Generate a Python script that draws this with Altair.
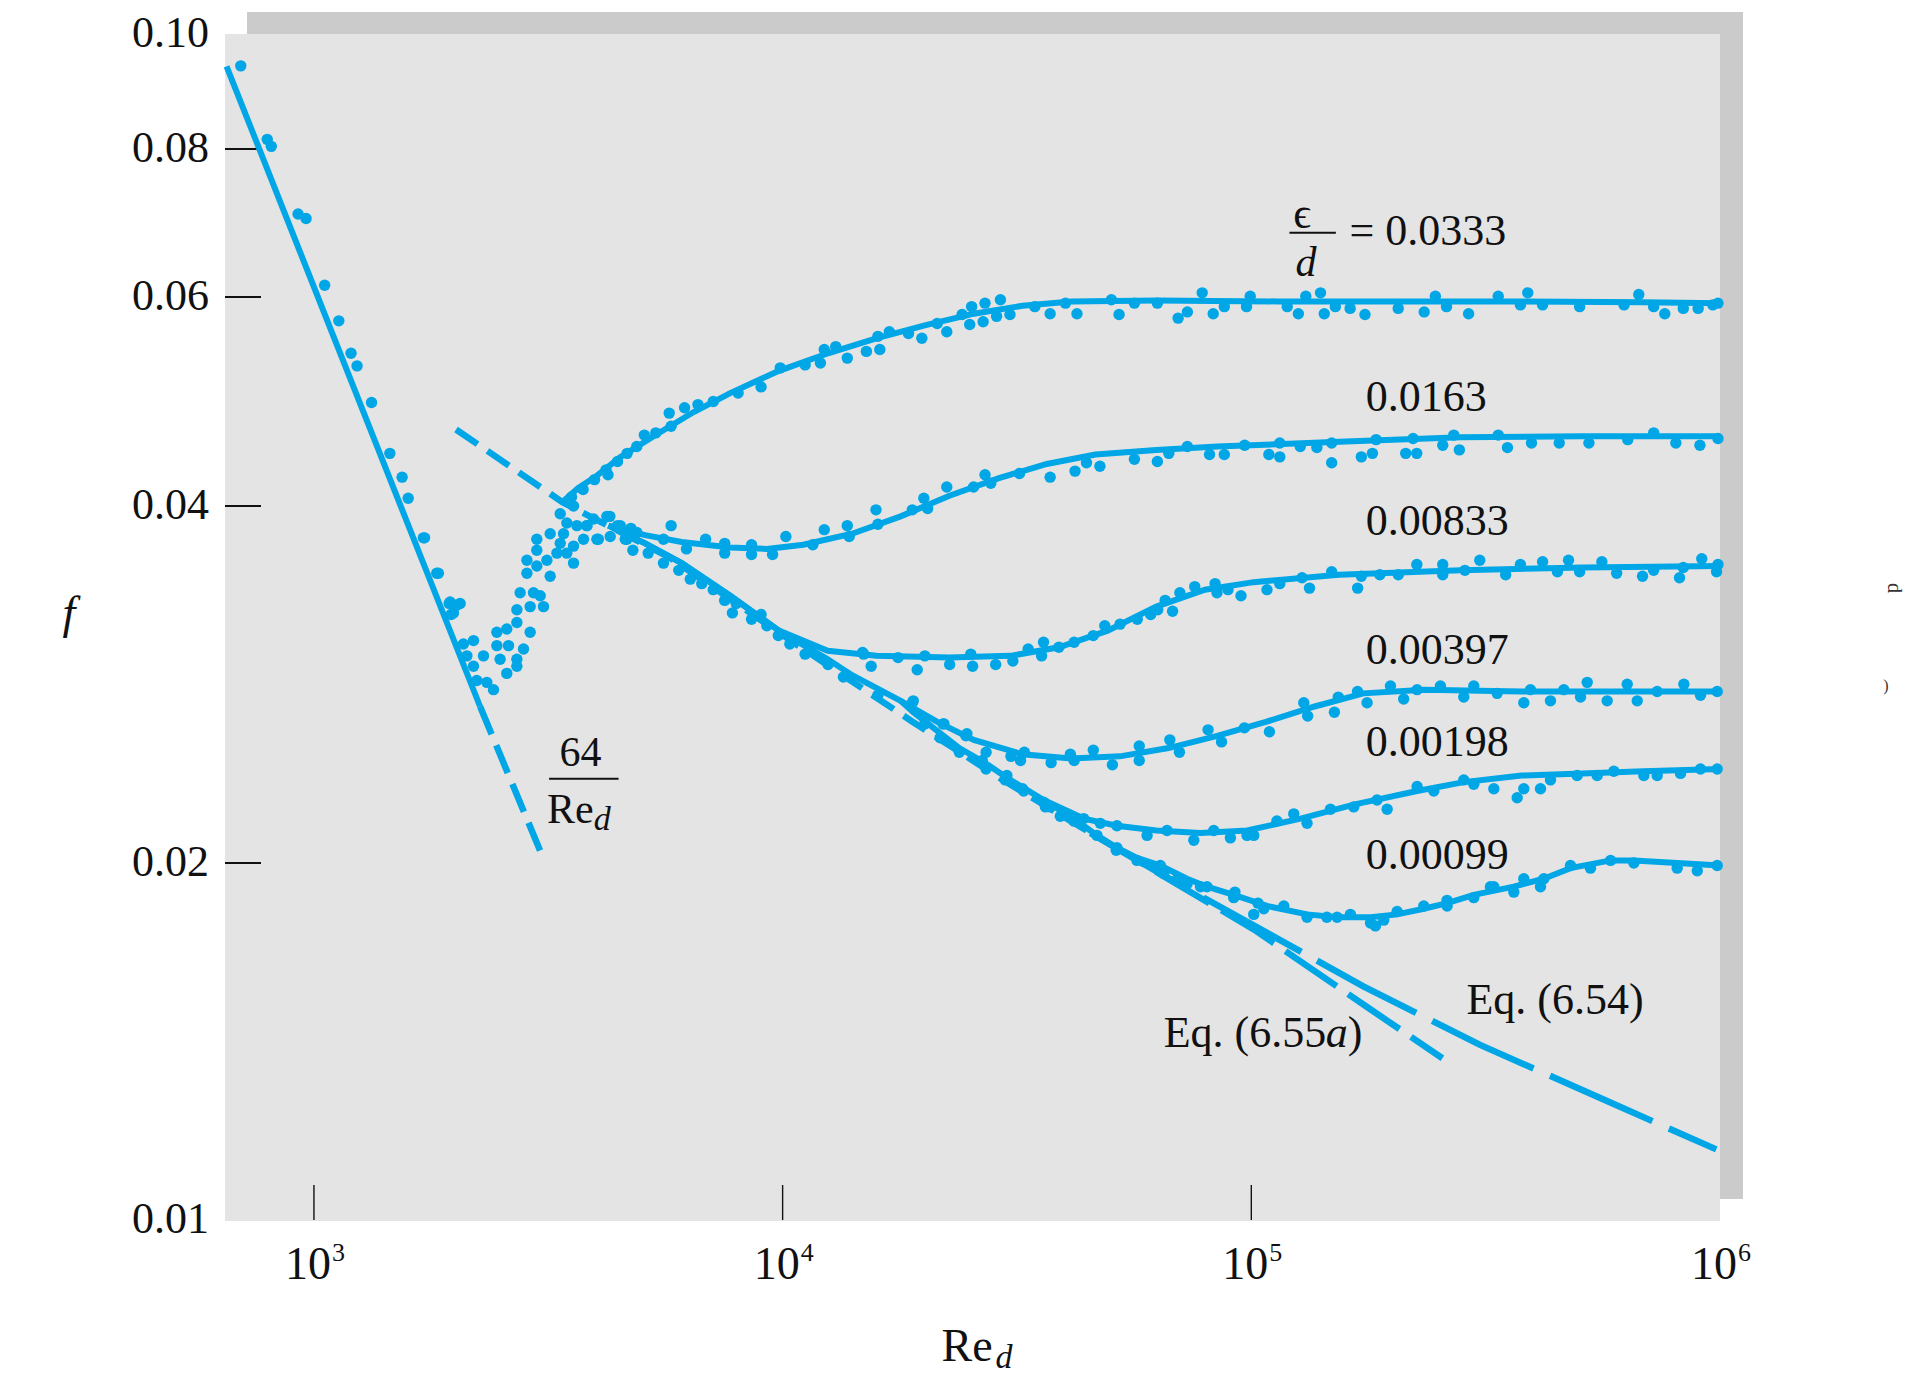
import altair as alt
import pandas as pd

BLUE = "#00a6e6"
INK = "#111111"
FONT = "Liberation Serif"
W, H = 1495, 1186

# ---------------- axis values ----------------
x_tick_values = [1000, 10000, 100000, 1000000]
x_tick_exponents = ["3", "4", "5", "6"]
x_tick_marks = [1000, 10000, 100000]
y_tick_values = [0.01, 0.02, 0.04, 0.06, 0.08, 0.10]
y_tick_labels = ["0.01", "0.02", "0.04", "0.06", "0.08", "0.10"]
y_tick_marks = [0.02, 0.04, 0.06, 0.08]

# ---------------- reference lines (Re, f) ----------------
laminar_solid = [(651, 0.0939), (2262, 0.0271)]
laminar_dash = [(2262, 0.0271), (3051, 0.0204)]
eq654_upper = [(2010, 0.0464), (3390, 0.0403), (5730, 0.0362), (10400, 0.0308),
               (18960, 0.0263), (30000, 0.0234), (45400, 0.0212)]
eq654_lower = [(45400, 0.0212), (63860, 0.0196), (108100, 0.01746), (173400, 0.01574),
               (307700, 0.01405), (600000, 0.0125), (982000, 0.01147)]
eq655a = [(45400, 0.0212), (101200, 0.01758), (176600, 0.01512), (255700, 0.01369)]

# ---------------- fitted curves (Re, f) ----------------
fit_0333 = [(3390, 0.0403), (3660, 0.0414), (4010, 0.0424), (4510, 0.0440), (5400, 0.0460),
            (6460, 0.0480), (7730, 0.0498), (9820, 0.0520), (12500, 0.0538), (15900, 0.0554),
            (20100, 0.0568), (25600, 0.0581), (32500, 0.0590), (41300, 0.0595), (62700, 0.0596),
            (114000, 0.0595), (207000, 0.0595), (377000, 0.0595), (686000, 0.0594), (1000000, 0.0593)]
fit_0163 = [(4250, 0.0385), (5090, 0.0378), (6090, 0.0373), (7730, 0.0369), (9250, 0.0368),
            (11070, 0.0371), (14070, 0.0379), (17860, 0.0392), (22690, 0.0408), (28830, 0.0422),
            (36610, 0.0434), (46500, 0.0442), (62720, 0.0446), (84590, 0.0449), (153800, 0.0453),
            (279900, 0.0457), (508800, 0.0458), (1000000, 0.0458)]
fit_00833 = [(4250, 0.0385), (5090, 0.0372), (6090, 0.0358), (7730, 0.0336), (9820, 0.0314),
             (12480, 0.0302), (15850, 0.0299), (22690, 0.0298), (30600, 0.0299), (38860, 0.0304),
             (49380, 0.0314), (62720, 0.0329), (79650, 0.0340), (101200, 0.0345), (153800, 0.0350),
             (279900, 0.0353), (508800, 0.0355), (1000000, 0.0356)]
fit_00397 = [(4250, 0.0385), (5090, 0.0372), (6090, 0.0358), (7730, 0.0336), (9820, 0.0314),
             (12480, 0.0297), (14070, 0.0288), (17860, 0.0274), (21380, 0.0263), (25570, 0.0254),
             (32480, 0.0247), (41260, 0.0245), (52430, 0.0246), (66590, 0.0250), (84590, 0.0256),
             (107400, 0.0263), (136500, 0.0271), (173400, 0.0278), (233800, 0.0280), (377300, 0.0279),
             (686200, 0.0279), (1000000, 0.0279)]
fit_00198 = [(17860, 0.0274), (19000, 0.0268), (23820, 0.0250), (27000, 0.0243), (30100, 0.0236),
             (36050, 0.0226), (43880, 0.0218), (51680, 0.0215), (62720, 0.0213), (77870, 0.0212),
             (97930, 0.0213), (127400, 0.0218), (165400, 0.0224), (225800, 0.0230), (284000, 0.0234),
             (377300, 0.0237), (508800, 0.0238), (686200, 0.0239), (1000000, 0.0240)]
fit_00099 = [(36050, 0.0226), (41780, 0.0218), (46850, 0.0211), (51680, 0.0206), (57030, 0.0202),
             (63960, 0.0199), (72930, 0.0194), (80430, 0.0191), (91710, 0.0188), (108000, 0.0184),
             (131500, 0.0181), (152400, 0.0180), (179600, 0.0180), (204700, 0.0181), (233300, 0.0183),
             (261700, 0.0185), (298300, 0.0188), (363100, 0.0191), (420800, 0.0194), (479700, 0.0198),
             (584100, 0.0201), (655000, 0.0201), (810300, 0.0200), (1000000, 0.0199)]

# ---------------- measured points (Re, f) ----------------
laminar_pts = [(698, 0.0940), (795, 0.0815), (811, 0.0804), (925, 0.0705), (962, 0.0699),
               (1054, 0.0614), (1130, 0.0573), (1200, 0.0538), (1236, 0.0525), (1327, 0.0489),
               (1452, 0.0443), (1542, 0.0423), (1589, 0.0406), (1712, 0.0376), (1722, 0.0376),
               (1828, 0.0351), (1843, 0.0351), (1943, 0.0331), (1952, 0.0332), (1962, 0.0324),
               (1985, 0.0325), (2021, 0.0330), (2051, 0.0331)]
transition_pts = [(2084, 0.0306), (2190, 0.0308), (2120, 0.0299), (2190, 0.0293), (2300, 0.0299),
                  (2226, 0.0285), (2338, 0.0284), (2416, 0.0280), (2456, 0.0313), (2579, 0.0315),
                  (2456, 0.0305), (2601, 0.0305), (2496, 0.0297), (2710, 0.0297), (2579, 0.0289),
                  (2710, 0.0293), (2800, 0.0303), (2710, 0.0319), (2893, 0.0313), (2710, 0.0327),
                  (2893, 0.0329), (3089, 0.0329), (2754, 0.0338), (2941, 0.0338), (3039, 0.0336),
                  (2847, 0.0351), (2989, 0.0356), (3192, 0.0349), (2847, 0.0360), (2989, 0.0367),
                  (3141, 0.0360), (3299, 0.0365), (2989, 0.0375), (3192, 0.0379), (3353, 0.0372),
                  (3464, 0.0365), (3580, 0.0358), (3408, 0.0379), (3580, 0.0370), (3353, 0.0394),
                  (3464, 0.0387), (3580, 0.0400), (3640, 0.0385), (3822, 0.0385), (3760, 0.0375),
                  (4015, 0.0375), (3950, 0.0390), (4217, 0.0392), (4287, 0.0377), (4503, 0.0385),
                  (4654, 0.0375), (4808, 0.0380)]
pts_0333 = [(3545, 0.0407), (3752, 0.0413), (3969, 0.0421), (4200, 0.0429), (4240, 0.0425),
            (4443, 0.0436), (4659, 0.0443), (4884, 0.0449), (5069, 0.0459), (5362, 0.0461),
            (5728, 0.0479), (5782, 0.0467), (6177, 0.0484), (6597, 0.0487), (7112, 0.0490),
            (8035, 0.0498), (8995, 0.0504), (9883, 0.0523), (11170, 0.0526), (12040, 0.0528),
            (12270, 0.0542), (12980, 0.0545), (13740, 0.0533), (15090, 0.0540), (15970, 0.0556),
            (16890, 0.0561), (16120, 0.0542), (18560, 0.0559), (19820, 0.0554), (21370, 0.0570),
            (22400, 0.0561), (24150, 0.0580), (25310, 0.0589), (25070, 0.0569), (27030, 0.0593),
            (26780, 0.0572), (29150, 0.0597), (28610, 0.0578), (30550, 0.0580), (34520, 0.0589),
            (37220, 0.0581), (40130, 0.0593), (42460, 0.0581), (50290, 0.0597), (52220, 0.0580),
            (56310, 0.0593), (63030, 0.0593), (69800, 0.0576), (73040, 0.0583), (78560, 0.0605),
            (82930, 0.0581), (87580, 0.0589), (97680, 0.0589), (99470, 0.0601), (119300, 0.0589),
            (126000, 0.0581), (130700, 0.0601), (140500, 0.0605), (143100, 0.0581), (151100, 0.0589),
            (162500, 0.0587), (174800, 0.0580), (205800, 0.0587), (233800, 0.0583), (247000, 0.0601),
            (260900, 0.0589), (290800, 0.0581), (336400, 0.0601), (375100, 0.0591), (388900, 0.0605),
            (418300, 0.0591), (501800, 0.0589), (624200, 0.0591), (671000, 0.0603), (721900, 0.0589),
            (762400, 0.0581), (835000, 0.0587), (898200, 0.0587), (965400, 0.0591), (990000, 0.0593)]
pts_0163 = [(3822, 0.0385), (4045, 0.0375), (4279, 0.0392), (4443, 0.0385), (4746, 0.0383),
            (4883, 0.0380), (5782, 0.0385), (5569, 0.0375), (6235, 0.0368), (6849, 0.0375),
            (7523, 0.0372), (7523, 0.0365), (8584, 0.0371), (8584, 0.0364), (9518, 0.0364),
            (10160, 0.0377), (11600, 0.0371), (12270, 0.0382), (13740, 0.0385), (13870, 0.0377),
            (15820, 0.0397), (15970, 0.0386), (18910, 0.0397), (20010, 0.0406), (20390, 0.0398),
            (22400, 0.0415), (25550, 0.0415), (27030, 0.0425), (27810, 0.0418), (32020, 0.0426),
            (37220, 0.0423), (42060, 0.0428), (44500, 0.0435), (47530, 0.0432), (56310, 0.0438),
            (63030, 0.0436), (66680, 0.0443), (73040, 0.0449), (81440, 0.0442), (87580, 0.0442),
            (96800, 0.0450), (109000, 0.0442), (115000, 0.0452), (115000, 0.0440), (127200, 0.0449),
            (138000, 0.0448), (148400, 0.0452), (148400, 0.0435), (171700, 0.0440), (181300, 0.0443),
            (184600, 0.0455), (213500, 0.0443), (225400, 0.0443), (221400, 0.0456), (256100, 0.0450),
            (270400, 0.0459), (277900, 0.0446), (336400, 0.0459), (352000, 0.0448), (396100, 0.0452),
            (454000, 0.0452), (525200, 0.0452), (635600, 0.0455), (721900, 0.0461), (805000, 0.0452),
            (906000, 0.0450), (990000, 0.0456)]
pts_00833 = [(4615, 0.0375), (4791, 0.0367), (5166, 0.0365), (5569, 0.0358), (6003, 0.0353),
             (6353, 0.0347), (6722, 0.0344), (7112, 0.0340), (7523, 0.0333), (7962, 0.0331),
             (7813, 0.0325), (8584, 0.0321), (8995, 0.0324), (9255, 0.0317), (9790, 0.0311),
             (10360, 0.0306), (11170, 0.0300), (12500, 0.0294), (13480, 0.0287), (14810, 0.0301),
             (14890, 0.0300), (15450, 0.0293), (17630, 0.0298), (19370, 0.0291), (20110, 0.0299),
             (22720, 0.0294), (25200, 0.0300), (25430, 0.0293), (28480, 0.0294), (30990, 0.0296),
             (33410, 0.0303), (35690, 0.0299), (36030, 0.0307), (38850, 0.0304), (41880, 0.0307),
             (46010, 0.0311), (48680, 0.0317), (52480, 0.0318), (57110, 0.0321), (60990, 0.0324),
             (63150, 0.0327), (67920, 0.0326), (65490, 0.0333), (70400, 0.0338), (75740, 0.0342),
             (83700, 0.0344), (84470, 0.0338), (89180, 0.0340), (95060, 0.0336), (108000, 0.0340),
             (115000, 0.0344), (128300, 0.0348), (133100, 0.0341), (148400, 0.0352), (168600, 0.0341),
             (171700, 0.0349), (188000, 0.0350), (205900, 0.0350), (225500, 0.0357), (256100, 0.0350),
             (256100, 0.0357), (285600, 0.0353), (307200, 0.0360), (348900, 0.0350), (375100, 0.0357),
             (418300, 0.0359), (449900, 0.0352), (475100, 0.0360), (501800, 0.0352), (559700, 0.0359),
             (601900, 0.0351), (683400, 0.0349), (721900, 0.0353), (819700, 0.0348), (835000, 0.0355),
             (914300, 0.0361), (983300, 0.0352), (990000, 0.0357)]
pts_00397 = [(15970, 0.0277), (18910, 0.0273), (19000, 0.0274), (21990, 0.0262), (24610, 0.0256),
             (20110, 0.0262), (22090, 0.0262), (21680, 0.0255), (24730, 0.0257), (27170, 0.0248),
             (30700, 0.0246), (32790, 0.0248), (32180, 0.0244), (37400, 0.0243), (41100, 0.0247),
             (41880, 0.0244), (46010, 0.0249), (50540, 0.0242), (57660, 0.0251), (57660, 0.0244),
             (67010, 0.0254), (70250, 0.0248), (80870, 0.0259), (86390, 0.0253), (96690, 0.0260),
             (109300, 0.0258), (129400, 0.0273), (131900, 0.0266), (150400, 0.0268), (153300, 0.0276),
             (168500, 0.0279), (176600, 0.0273), (198100, 0.0282), (211400, 0.0275), (225800, 0.0280),
             (253200, 0.0282), (284000, 0.0276), (298300, 0.0282), (334600, 0.0278), (381400, 0.0273),
             (394100, 0.0280), (434800, 0.0274), (464300, 0.0280), (504000, 0.0276), (520800, 0.0284),
             (574500, 0.0274), (633900, 0.0283), (665900, 0.0274), (734500, 0.0279), (837300, 0.0283),
             (908600, 0.0277), (986300, 0.0279)]
pts_00198 = [(23820, 0.0248), (26670, 0.0244), (27170, 0.0240), (29850, 0.0235), (30100, 0.0237),
             (32500, 0.0231), (32680, 0.0230), (36050, 0.0225), (36370, 0.0223), (37250, 0.0223),
             (40430, 0.0220), (43880, 0.0218), (47630, 0.0216), (51680, 0.0215), (59930, 0.0211),
             (66110, 0.0213), (75390, 0.0209), (83150, 0.0213), (90230, 0.0210), (97930, 0.0211),
             (101200, 0.0211), (113400, 0.0217), (123200, 0.0220), (131500, 0.0216), (147500, 0.0222),
             (165400, 0.0223), (185500, 0.0226), (194900, 0.0222), (225800, 0.0232), (245100, 0.0230),
             (284000, 0.0235), (298300, 0.0233), (329200, 0.0231), (369200, 0.0227), (381400, 0.0231),
             (414000, 0.0231), (434800, 0.0235), (495700, 0.0237), (547000, 0.0237), (593600, 0.0239),
             (687900, 0.0237), (734500, 0.0237), (823700, 0.0238), (908600, 0.0240), (986300, 0.0240)]
pts_00099 = [(39130, 0.0219), (41780, 0.0217), (46850, 0.0211), (51680, 0.0206), (51490, 0.0205),
             (57030, 0.0201), (63960, 0.0199), (65020, 0.0196), (69580, 0.0194), (72930, 0.0192),
             (77910, 0.0191), (80430, 0.0191), (91710, 0.0187), (92260, 0.0189), (101200, 0.0181),
             (103300, 0.0185), (106300, 0.0183), (117300, 0.0184), (131500, 0.0180), (144900, 0.0180),
             (152400, 0.0180), (162700, 0.0181), (179600, 0.0178), (184000, 0.0177), (191700, 0.0179),
             (204700, 0.0182), (233300, 0.0184), (261700, 0.0184), (261600, 0.0186), (298300, 0.0187),
             (323700, 0.0191), (329200, 0.0191), (363100, 0.0189), (381400, 0.0194), (414000, 0.0191),
             (420800, 0.0194), (479700, 0.0199), (529200, 0.0198), (584100, 0.0201), (655000, 0.0200),
             (810300, 0.0198), (894300, 0.0197), (986300, 0.0199)]

# ---------------- annotations (text, Re, f) ----------------
labels_left = [("= 0.0333", 161900, 0.0681), ("0.0163", 175500, 0.04935),
               ("0.00833", 175500, 0.03878), ("0.00397", 175500, 0.0302),
               ("0.00198", 175500, 0.02526), ("0.00099", 175500, 0.02026),
               ("Eq. (6.54)", 287700, 0.01530), ("Eq. (6.55", 65010, 0.01436)]
labels_center = [("ϵ", 128300, 0.0704)]
label_64 = [("64", 3706, 0.02476)]
label_re = [("Re", 3144, 0.02215)]
label_d_frac = [("d", 130800, 0.06417)]
label_d_sub = [("d", 4120, 0.02176)]
label_eq_a = [("a", 65010, 0.01436)]
label_eq_close = [(")", 65010, 0.01436)]
fraction_bars = [(120600, 151500, 0.0680), (3175, 4466, 0.02355)]


def pts_df(pts, name="s"):
    return pd.DataFrame({"Re": [p[0] for p in pts], "f": [p[1] for p in pts],
                         "curve": name, "i": list(range(len(pts)))})


def txt_df(items):
    return pd.DataFrame({"text": [t[0] for t in items], "Re": [t[1] for t in items],
                         "f": [t[2] for t in items]})


xs = alt.Scale(type="log", domain=[646, 1000000], nice=False)
ys = alt.Scale(type="log", domain=[0.01, 0.1], nice=False)
X = alt.X("Re:Q", scale=xs, axis=None)
Y = alt.Y("f:Q", scale=ys, axis=None)

one = pd.DataFrame({"k": [0]})

shadow = alt.Chart(one).mark_rect(color="#cbcbcb").encode(
    x=alt.value(22), x2=alt.value(1518), y=alt.value(-22), y2=alt.value(1165))
panel = alt.Chart(one).mark_rect(color="#e4e4e4").encode(
    x=alt.value(0), x2=alt.value(W), y=alt.value(0), y2=alt.value(H + 1))

xtick_layer = alt.Chart(pd.DataFrame({"Re": x_tick_marks})).mark_rule(
    color=INK, strokeWidth=1.4).encode(x=X, y=alt.value(H - 35), y2=alt.value(H))

ytick_layer = alt.Chart(pd.DataFrame({"f": y_tick_marks})).mark_rule(
    color=INK, strokeWidth=2).encode(y=Y, x=alt.value(0), x2=alt.value(36))

ylab = alt.Chart(pd.DataFrame({"f": y_tick_values, "lab": y_tick_labels})).mark_text(
    font=FONT, fontSize=44, color=INK, align="right", baseline="middle").encode(
    y=Y, x=alt.value(-16), text="lab:N")

xlab_df = pd.DataFrame({"Re": x_tick_values, "sup": x_tick_exponents})
xlab_base = alt.Chart(xlab_df).mark_text(
    font=FONT, fontSize=46, color=INK, align="right", baseline="middle", dx=17).encode(
    x=X, y=alt.value(H + 45), text=alt.value("10"))
xlab_sup = alt.Chart(xlab_df).mark_text(
    font=FONT, fontSize=26, color=INK, align="left", baseline="middle", dx=18).encode(
    x=X, y=alt.value(H + 33), text="sup:N")

solid_df = pd.concat([pts_df(laminar_solid, "lam"), pts_df(fit_0333, "a"),
                      pts_df(fit_0163, "b"), pts_df(fit_00833, "c"),
                      pts_df(fit_00397, "d"), pts_df(fit_00198, "e"),
                      pts_df(fit_00099, "g")], ignore_index=True)
solid_lines = alt.Chart(solid_df).mark_line(color=BLUE, strokeWidth=6).encode(
    x=X, y=Y, detail="curve:N", order="i:Q")


def dashed(pts, dash, width=6.5):
    return alt.Chart(pts_df(pts)).mark_line(
        color=BLUE, strokeWidth=width, strokeDash=dash, strokeCap="butt").encode(
        x=X, y=Y, order="i:Q")


lam_dash = dashed(laminar_dash, [30, 12])
e654a = dashed(eq654_upper, [26, 12])
e654b = dashed(eq654_lower, [112, 18])
e655 = dashed(eq655a, [62, 14])

all_pts = pd.concat([pts_df(p) for p in [laminar_pts, transition_pts, pts_0333, pts_0163,
                                         pts_00833, pts_00397, pts_00198, pts_00099]],
                    ignore_index=True)
points = alt.Chart(all_pts).mark_circle(color=BLUE, size=130, opacity=1).encode(x=X, y=Y)


def text_layer(items, size=44, align="left", style="normal", dx=0):
    return alt.Chart(txt_df(items)).mark_text(
        font=FONT, fontSize=size, color=INK, align=align, baseline="middle",
        fontStyle=style, dx=dx).encode(x=X, y=Y, text="text:N")


t_left = text_layer(labels_left)
t_eps = text_layer(labels_center, size=44, align="center")
t_64 = text_layer(label_64, size=42, align="center")
t_re = text_layer(label_re, size=42, align="left")
t_dfrac = text_layer(label_d_frac, size=42, align="center", style="italic")
t_dsub = text_layer(label_d_sub, size=34, align="center", style="italic")
t_a = text_layer(label_eq_a, size=44, align="left", style="italic", dx=162)
t_close = text_layer(label_eq_close, size=44, align="left", dx=184)

bars_df = pd.DataFrame({"Re": [b[0] for b in fraction_bars], "Re2": [b[1] for b in fraction_bars],
                        "f": [b[2] for b in fraction_bars]})
bars = alt.Chart(bars_df).mark_rule(color=INK, strokeWidth=2).encode(
    x=X, x2="Re2:Q", y=Y)


def free_text(txt, x, y, size, style="normal", angle=0, color=INK, align="center"):
    return alt.Chart(one).mark_text(
        font=FONT, fontSize=size, fontStyle=style, color=color, align=align,
        baseline="middle", angle=angle).encode(
        x=alt.value(x), y=alt.value(y), text=alt.value(txt))


title_f = free_text("f", -156, 580, 46, style="italic")
title_re = free_text("Re", 742, H + 127, 46)
title_sub = free_text("d", 779, 1324, 34, style="italic")
art1 = free_text("d", 1669, 554, 20, angle=90, color="#333333")
art2 = free_text(")", 1661, 652, 16, color="#333333")

chart = alt.layer(
    shadow, panel, xtick_layer, ytick_layer, ylab, xlab_base, xlab_sup,
    lam_dash, e654a, e654b, e655, solid_lines, points,
    bars, t_left, t_eps, t_64, t_re, t_dfrac, t_dsub, t_a, t_close,
    title_f, title_re, title_sub, art1, art2
).properties(
    width=W, height=H,
    autosize=alt.AutoSizeParams(type="none"),
    padding={"left": 225, "top": 34, "right": 188, "bottom": 158},
    background="white"
).configure_view(stroke="transparent")

chart.save("out.html", embed_options={"renderer": "svg", "actions": False})
